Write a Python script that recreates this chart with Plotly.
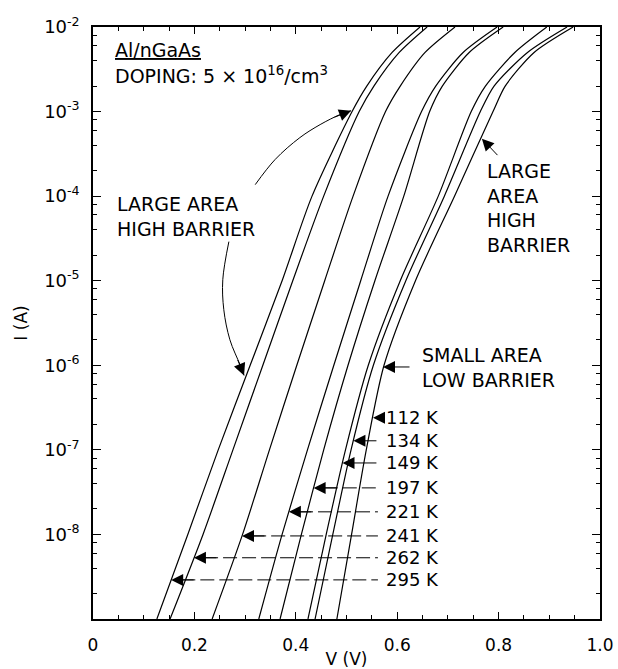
import numpy as np
import plotly.graph_objects as go

# ---------------- data ----------------
current_levels = [1e-9, 1e-8, 1e-7, 1e-6, 1e-5, 1e-4, 1e-3, 2e-3, 5e-3, 1e-2]
temperatures = ["295 K", "262 K", "241 K", "221 K", "197 K", "149 K", "134 K", "112 K"]
v_295 = [0.126, 0.187, 0.247, 0.310, 0.373, 0.432, 0.511, 0.540, 0.590, 0.645]
v_262 = [0.152, 0.217, 0.276, 0.335, 0.394, 0.455, 0.525, 0.554, 0.604, 0.659]
v_241 = [0.235, 0.295, 0.348, 0.402, 0.457, 0.513, 0.577, 0.606, 0.655, 0.714]
v_221 = [0.327, 0.373, 0.423, 0.475, 0.528, 0.582, 0.648, 0.676, 0.730, 0.797]
v_197 = [0.369, 0.411, 0.455, 0.503, 0.556, 0.613, 0.664, 0.689, 0.742, 0.809]
v_149 = [0.424, 0.460, 0.498, 0.543, 0.606, 0.681, 0.746, 0.774, 0.832, 0.895]
v_134 = [0.438, 0.473, 0.509, 0.553, 0.617, 0.693, 0.764, 0.791, 0.857, 0.935]
v_112 = [0.481, 0.510, 0.539, 0.574, 0.636, 0.713, 0.789, 0.813, 0.870, 0.947]
curves = [v_295, v_262, v_241, v_221, v_197, v_149, v_134, v_112]

# current level at which each temperature label points to its curve
label_currents = [2.9e-9, 5.3e-9, 9.6e-9, 1.85e-8, 3.55e-8, 7.0e-8, 1.28e-7, 2.4e-7]
dashed_labels = ["295 K", "262 K", "241 K", "221 K", "197 K"]

x_tickvals = [0, 0.2, 0.4, 0.6, 0.8, 1.0]
x_ticktext = ["0", "0.2", "0.4", "0.6", "0.8", "1.0"]
y_tickvals = [1e-8, 1e-7, 1e-6, 1e-5, 1e-4, 1e-3, 1e-2]
y_ticktext = ["10<sup>-8</sup>", "10<sup>-7</sup>", "10<sup>-6</sup>", "10<sup>-5</sup>",
              "10<sup>-4</sup>", "10<sup>-3</sup>", "10<sup>-2</sup>"]

# curved pointer paths (V, I)
upper_arrow_v = [0.320, 0.359, 0.408, 0.448, 0.487, 0.509]
upper_arrow_i = [10 ** -3.864, 10 ** -3.568, 10 ** -3.308, 10 ** -3.154, 10 ** -3.036, 10 ** -2.99]
lower_arrow_v = [0.268, 0.256, 0.258, 0.270, 0.290, 0.298]
lower_arrow_i = [10 ** -4.538, 10 ** -4.988, 10 ** -5.343, 10 ** -5.698, 10 ** -5.994, 10 ** -6.12]

FONT = "DejaVu Sans"
fig = go.Figure()

for v in curves:
    fig.add_trace(go.Scatter(x=v, y=current_levels, mode="lines",
                             line=dict(color="black", width=1.2, shape="spline", smoothing=0.75),
                             hoverinfo="skip"))

for pv, pi in [(upper_arrow_v, upper_arrow_i), (lower_arrow_v, lower_arrow_i)]:
    fig.add_trace(go.Scatter(x=pv, y=pi, mode="lines",
                             line=dict(color="black", width=1, shape="spline"),
                             hoverinfo="skip"))

AH = dict(showarrow=True, arrowhead=2, arrowsize=2.4, arrowwidth=1, arrowcolor="black", text="")
lc = np.log10(current_levels)
label_x = 0.686
tail_x = 0.562
annotations = []
for name, v, ci in zip(temperatures, curves, label_currents):
    ly = np.log10(ci)
    tip = float(np.interp(ly, lc, v))
    annotations.append(dict(x=label_x, y=ly, xref="x", yref="y", text=name, showarrow=False,
                            xanchor="right", yanchor="middle",
                            font=dict(family=FONT, size=18, color="black")))
    if name in dashed_labels:
        fig.add_trace(go.Scatter(x=[tip + 0.02, tail_x], y=[ci, ci], mode="lines",
                                 line=dict(color="black", width=1, dash="14px,5px"),
                                 hoverinfo="skip"))
        annotations.append(dict(x=tip, y=ly, xref="x", yref="y", ax=24, ay=0, **AH))
    else:
        annotations.append(dict(x=tip, y=ly, xref="x", yref="y", ax=tail_x, ay=ly,
                                axref="x", ayref="y", **AH))

# arrowheads on curved pointers
annotations.append(dict(x=upper_arrow_v[-1], y=np.log10(upper_arrow_i[-1]), xref="x", yref="y",
                        ax=-18, ay=7, **AH))
annotations.append(dict(x=lower_arrow_v[-1], y=np.log10(lower_arrow_i[-1]), xref="x", yref="y",
                        ax=-7, ay=-17, **AH))
# right large-area pointer
annotations.append(dict(x=0.767, y=-3.32, xref="x", yref="y", ax=17, ay=18, **AH))
# small area pointer
annotations.append(dict(x=0.572, y=-6.02, xref="x", yref="y", ax=28, ay=0, **AH))

txt = dict(family=FONT, size=19, color="black")
annotations += [
    dict(x=0.039, y=-2.27, xref="x", yref="y", text="<u>Al/nGaAs</u>", showarrow=False,
         xanchor="left", yanchor="middle", font=txt),
    dict(x=0.039, y=-2.57, xref="x", yref="y", text="DOPING: 5 × 10<sup>16</sup>/cm<sup>3</sup>",
         showarrow=False, xanchor="left", yanchor="middle", font=txt),
    dict(x=0.043, y=-4.24, xref="x", yref="y", text="LARGE AREA<br>HIGH BARRIER",
         showarrow=False, xanchor="left", yanchor="middle", align="left", font=txt),
    dict(x=0.773, y=-4.14, xref="x", yref="y", text="LARGE<br>AREA<br>HIGH<br>BARRIER",
         showarrow=False, xanchor="left", yanchor="middle", align="left", font=txt),
    dict(x=0.645, y=-6.03, xref="x", yref="y", text="SMALL AREA<br>LOW BARRIER",
         showarrow=False, xanchor="left", yanchor="middle", align="left", font=txt),
]

minor_y = [m * 10.0 ** k for k in range(-9, -2) for m in (2, 4, 6, 8)]
minor_x = [round(0.05 * i, 2) for i in range(21)]

fig.update_layout(
    width=618, height=669,
    margin=dict(l=93, r=18, t=27, b=50),
    paper_bgcolor="white", plot_bgcolor="white",
    showlegend=False,
    font=dict(family=FONT, size=16, color="black"),
    annotations=annotations,
    xaxis=dict(range=[0, 1], tickvals=x_tickvals, ticktext=x_ticktext,
               ticks="inside", ticklen=7, tickwidth=1.2, tickcolor="black",
               mirror="allticks", showline=True, linecolor="black", linewidth=1.5,
               showgrid=False, zeroline=False, automargin=False,
               minor=dict(tickvals=minor_x, ticks="inside", ticklen=4, tickcolor="black",
                          tickwidth=1, showgrid=False),
               tickfont=dict(family=FONT, size=17), ticklabelstandoff=10,
               title=dict(text="V (V)", font=dict(family=FONT, size=17), standoff=10)),
    yaxis=dict(type="log", range=[-9, -2], tickvals=y_tickvals, ticktext=y_ticktext,
               ticks="inside", ticklen=8, tickwidth=1.2, tickcolor="black",
               mirror="allticks", showline=True, linecolor="black", linewidth=1.5,
               showgrid=False, zeroline=False, automargin=False,
               minor=dict(tickvals=minor_y, ticks="inside", ticklen=4, tickcolor="black",
                          tickwidth=1, showgrid=False),
               tickfont=dict(family=FONT, size=18), ticklabelstandoff=8,
               title=dict(text="I (A)", font=dict(family=FONT, size=17), standoff=12)),
)

fig.write_html("out.html")
